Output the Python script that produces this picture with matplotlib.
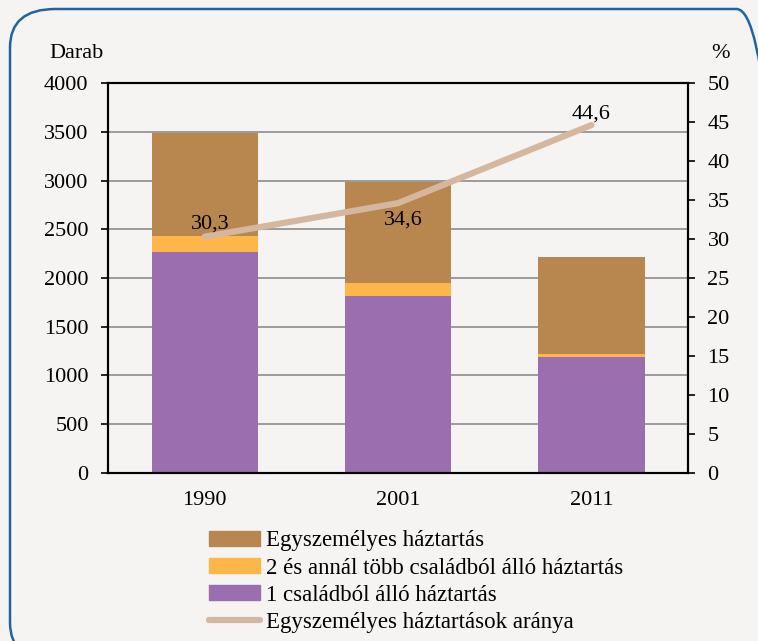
import numpy as np
import matplotlib.pyplot as plt
from matplotlib.patches import FancyBboxPatch
from matplotlib.lines import Line2D
from matplotlib.patches import Patch

plt.rcParams['font.family'] = ['Liberation Serif', 'DejaVu Serif']

# Adatok
evek = ['1990', '2001', '2011']
egy_csalad = [2270, 1819, 1193]
tobb_csalad = [160, 130, 28]
egyszemelyes = [1054, 1033, 991]
arany = [30.3, 34.6, 44.6]
arany_cimke = ['30,3', '34,6', '44,6']

c_barna = '#B8864F'
c_sarga = '#FDB64A'
c_lila = '#9A6EAF'
c_vonal = '#D5B7A0'
hatter = '#F5F4F2'

fig = plt.figure(figsize=(7.58, 6.41), dpi=100, facecolor=hatter)
ax = fig.add_axes([0.1425, 0.2621, 0.7652, 0.6084])
ax.set_facecolor(hatter)

x = np.arange(len(evek))
w = 0.55
ax.bar(x, egy_csalad, w, color=c_lila, zorder=2)
ax.bar(x, tobb_csalad, w, bottom=egy_csalad, color=c_sarga, zorder=2)
alj = np.array(egy_csalad) + np.array(tobb_csalad)
ax.bar(x, egyszemelyes, w, bottom=alj, color=c_barna, zorder=2)

ax.set_xlim(-0.5, 2.5)
ax.set_ylim(0, 4000)
ax.set_yticks(np.arange(0, 4001, 500))
ax.set_xticks(x)
ax.set_xticklabels(evek)
ax.yaxis.grid(True, color='#8C8C8C', linewidth=1.2, zorder=0)
ax.set_axisbelow(True)
ax.tick_params(axis='y', direction='out', length=5, width=1.2, pad=9, labelsize=16)
ax.tick_params(axis='x', length=0, pad=13, labelsize=16)
for s in ax.spines.values():
    s.set_linewidth(1.5)
    s.set_color('black')

ax2 = ax.twinx()
ax2.set_ylim(0, 50)
ax2.set_yticks(np.arange(0, 51, 5))
ax2.tick_params(axis='y', direction='out', length=5, width=1.2, pad=9, labelsize=16)
for s in ax2.spines.values():
    s.set_linewidth(1.5)
ax2.plot(x, arany, color=c_vonal, linewidth=4.5, solid_capstyle='round', zorder=3)

eltolas = [(4, 9), (4, -12), (0, 8)]
for xi, yi, t, off in zip(x, arany, arany_cimke, eltolas):
    ax2.annotate(t, (xi, yi), xytext=off, textcoords='offset points',
                 ha='center', va='center', fontsize=16)

fig.text(77 / 758, 1 - 53 / 641, 'Darab', ha='center', va='center', fontsize=16)
fig.text(720 / 758, 1 - 53 / 641, '%', ha='center', va='center', fontsize=16)

kezelok = [Patch(color=c_barna), Patch(color=c_sarga), Patch(color=c_lila),
           Line2D([], [], color=c_vonal, linewidth=4.5, solid_capstyle='round')]
cimkek = ['Egyszemélyes háztartás',
          '2 és annál több családból álló háztartás',
          '1 családból álló háztartás',
          'Egyszemélyes háztartások aránya']
fig.legend(kezelok, cimkek, loc='upper left', bbox_to_anchor=(198 / 758, 1 - 519 / 641),
           frameon=False, fontsize=16.5, handlelength=2.2, handleheight=0.6,
           handletextpad=0.25, labelspacing=0.27, borderpad=0)

keret = FancyBboxPatch((10 / 758, -20 / 641), 772 / 758, 652 / 641,
                       boxstyle='round,pad=0,rounding_size=0.06',
                       transform=fig.transFigure, facecolor='none',
                       edgecolor='#1F63A3', linewidth=1.8, clip_on=False)
fig.patches.append(keret)

fig.savefig('out.png', dpi=100, facecolor=hatter)
